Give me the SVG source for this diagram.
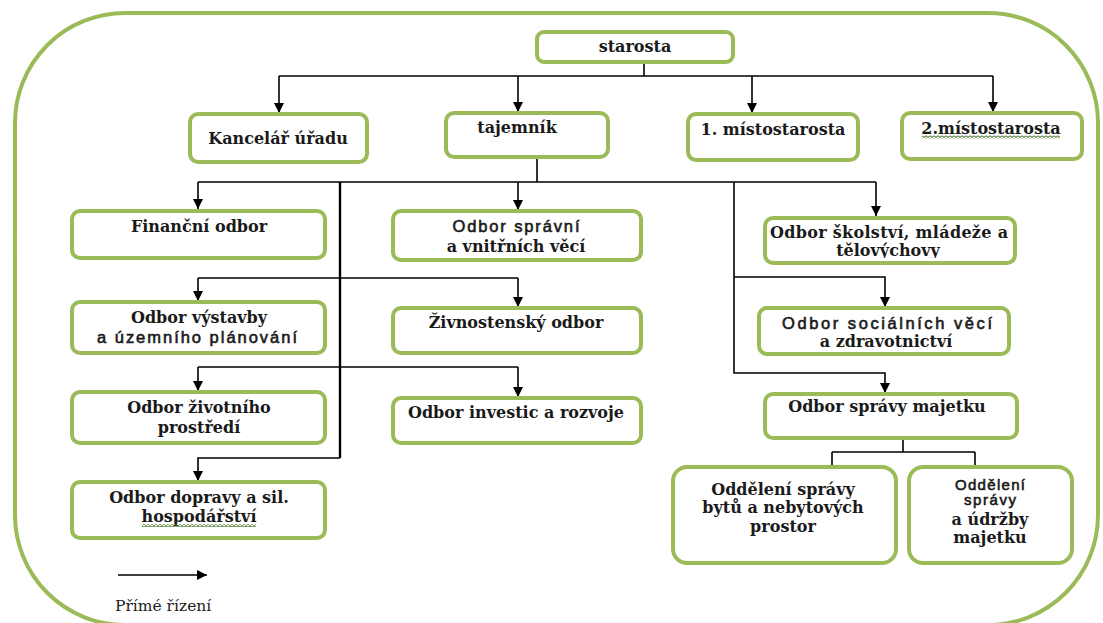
<svg xmlns="http://www.w3.org/2000/svg" width="1103" height="623" viewBox="0 0 1103 623">
<defs>
<marker id="arr" viewBox="0 0 10 10" refX="10" refY="5" markerWidth="10" markerHeight="10" markerUnits="userSpaceOnUse" orient="auto">
<path d="M0,0 L10,5 L0,10 Z" fill="#000"/>
</marker>
<pattern id="squig" width="4" height="3" patternUnits="userSpaceOnUse">
<path d="M0,2.5 L2,0.5 L4,2.5" fill="none" stroke="#5f8a45" stroke-width="1.1"/>
</pattern>
<clipPath id="clipTel"><rect x="800" y="240" width="160" height="18"/></clipPath>
<style>
.frame{fill:#fff;stroke:#9bbb59;stroke-width:4}
.box{fill:#fff;stroke:#9bbb59;stroke-width:4}
.ln{fill:none;stroke:#000;stroke-width:1.6}
.ar{fill:none;stroke:#000;stroke-width:1.6;marker-end:url(#arr)}
.t{font-family:"DejaVu Serif","Liberation Serif",serif;font-weight:bold;font-size:16px;fill:#1a1a1a;text-anchor:middle}
.s{font-family:"Liberation Sans","Arial",sans-serif;font-size:16.5px;fill:#1a1a1a;stroke:#1a1a1a;stroke-width:0.6;text-anchor:middle}
.lg{font-family:"DejaVu Serif","Liberation Serif",serif;font-size:15.5px;fill:#1a1a1a}
</style>
</defs>
<rect class="frame" x="15" y="13" width="1083" height="612" rx="110" ry="110"/>
<g id="connectors">
<path class="ln" d="M644,62 V76 M279,76 H993"/>
<path class="ar" d="M279,76 V113"/>
<path class="ar" d="M518,76 V112"/>
<path class="ar" d="M752,76 V113"/>
<path class="ar" d="M993,76 V112"/>
<path class="ln" d="M537,157 V182 M198,182 H876"/>
<path class="ar" d="M198,182 V209"/>
<path class="ar" d="M518,182 V210"/>
<path class="ar" d="M876,182 V216"/>
<path class="ln" style="stroke-width:2.4" d="M340,182 V458"/>
<path class="ar" d="M734,182 V373 H885 V393"/>
<path class="ln" d="M198,278 H518"/>
<path class="ar" d="M198,278 V301"/>
<path class="ar" d="M518,278 V307"/>
<path class="ar" d="M734,277 H885 V307"/>
<path class="ln" d="M198,367 H518"/>
<path class="ar" d="M198,367 V391"/>
<path class="ar" d="M518,367 V397"/>
<path class="ar" d="M340,458 H198 V481"/>
<path class="ln" d="M903,438 V452 M832,452 H975 M832,452 V466 M975,452 V466"/>
</g>
<g id="starosta"><rect class="box" x="537" y="32" width="196" height="30" rx="7"/><text class="t" x="635" y="52">starosta</text></g>
<g id="kancelar"><rect class="box" x="190" y="114" width="177" height="48" rx="8"/><text class="t" x="278" y="144">Kancelář úřadu</text></g>
<g id="tajemnik"><rect class="box" x="446" y="113" width="162" height="44" rx="8"/><text class="t" x="517" y="133">tajemník</text></g>
<g id="mistostarosta1"><rect class="box" x="688" y="114" width="170" height="46" rx="8"/><text class="t" x="773" y="135">1. místostarosta</text></g>
<g id="mistostarosta2"><rect class="box" x="902" y="113" width="180" height="46" rx="8"/><text class="t" x="991" y="134">2.místostarosta</text><rect x="922" y="135.5" width="138" height="3" fill="url(#squig)"/></g>
<g id="financni"><rect class="box" x="72" y="211" width="253" height="47" rx="8"/><text class="t" x="199" y="232">Finanční odbor</text></g>
<g id="spravni"><rect class="box" x="393" y="211" width="248" height="49" rx="8"/><text class="s" x="516" y="232" textLength="127" lengthAdjust="spacing">Odbor správní</text><text class="t" x="516" y="252">a vnitřních věcí</text></g>
<g id="skolstvi"><rect class="box" x="765" y="218" width="250" height="45" rx="8"/><text class="t" x="889" y="238" textLength="238" lengthAdjust="spacing">Odbor školství, mládeže a</text><text class="t" x="888" y="256" clip-path="url(#clipTel)">tělovýchovy</text></g>
<g id="vystavby"><rect class="box" x="72" y="302" width="253" height="51" rx="8"/><text class="t" x="199" y="323">Odbor výstavby</text><text class="s" x="197" y="343" textLength="200" lengthAdjust="spacing">a územního plánování</text></g>
<g id="zivnostensky"><rect class="box" x="393" y="308" width="248" height="45" rx="8"/><text class="t" x="516" y="328">Živnostenský odbor</text></g>
<g id="socialni"><rect class="box" x="759" y="308" width="250" height="46" rx="8"/><text class="s" x="887" y="329" textLength="210" lengthAdjust="spacing">Odbor sociálních věcí</text><text class="t" x="886" y="347">a zdravotnictví</text></g>
<g id="zivotniho"><rect class="box" x="72" y="392" width="253" height="51" rx="8"/><text class="t" x="199" y="413">Odbor životního</text><text class="t" x="199" y="433">prostředí</text></g>
<g id="investic"><rect class="box" x="393" y="398" width="248" height="45" rx="8"/><text class="t" x="516" y="418">Odbor investic a rozvoje</text></g>
<g id="majetek"><rect class="box" x="765" y="394" width="252" height="44" rx="8"/><text class="t" x="887" y="412">Odbor správy majetku</text></g>
<g id="doprava"><rect class="box" x="72" y="482" width="253" height="56" rx="8"/><text class="t" x="199" y="503">Odbor dopravy a sil.</text><text class="t" x="199" y="522">hospodářství</text><rect x="142" y="524" width="114" height="3" fill="url(#squig)"/></g>
<g id="byty"><rect class="box" x="673" y="467" width="223" height="96" rx="14"/><text class="t" x="783" y="495">Oddělení správy</text><text class="t" x="783" y="513">bytů a nebytových</text><text class="t" x="783" y="532">prostor</text></g>
<g id="udrzba"><rect class="box" x="909" y="467" width="163" height="96" rx="14"/><text class="s" x="990" y="490" style="font-size:15px" textLength="70" lengthAdjust="spacing">Oddělení</text><text class="s" x="990" y="505" style="font-size:15px" textLength="52" lengthAdjust="spacing">správy</text><text class="t" x="990" y="525">a údržby</text><text class="t" x="990" y="543">majetku</text></g>
<g id="legend"><path class="ar" d="M118,575 H207"/><text class="lg" x="115" y="611">Přímé řízení</text></g>
</svg>
